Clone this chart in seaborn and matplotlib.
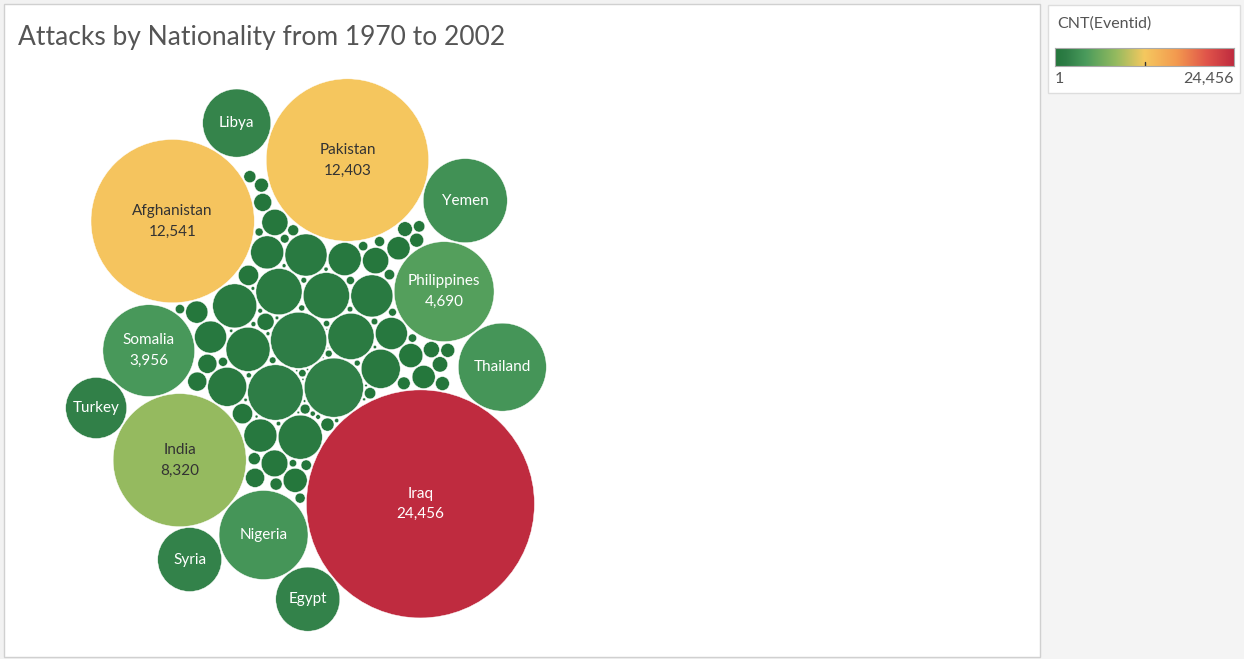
import numpy as np
import matplotlib
matplotlib.use("Agg")
import matplotlib.pyplot as plt
from matplotlib.patches import Circle, Rectangle
from matplotlib.colors import LinearSegmentedColormap, Normalize
import seaborn as sns

# nationalities that carry a label in the chart
countries = ["Iraq", "Pakistan", "Afghanistan", "India", "Philippines", "Somalia",
             "Nigeria", "Thailand", "Yemen", "Libya", "Egypt", "Syria", "Turkey"]
counts = [24456, 12403, 12541, 8320, 4690, 3956,
          3720, 3640, 3320, 2180, 1930, 1920, 1750]

# the rest of the nationalities (no room for a label)
other_counts = [1640, 1475, 1440, 1000, 1000, 1000, 910, 910, 910, 830, 830, 715, 710,
                510, 510, 510, 480, 480, 333, 320, 320, 270, 270, 250, 250, 230, 190, 190,
                170, 170, 170, 150, 135, 120, 110, 100, 90, 90, 90, 90, 80, 75, 68, 68, 68,
                60, 60, 55, 50, 50, 47, 47, 45, 40, 40, 38, 35, 32, 30, 30, 28, 25, 25, 22,
                20, 20, 18, 17, 16, 15, 14, 12, 12, 11, 10, 10, 9, 8, 8, 7, 7, 6, 6, 5, 5,
                5, 4, 4, 3, 3, 3, 2, 2, 2, 1, 1, 1]

cmin, cmax = 1, 24456

sns.set_theme(style="white")
plt.rcParams['font.family'] = ['Lato', 'DejaVu Sans']

W, H = 1244, 659
PX = 114 / np.sqrt(24456)      # pixels per unit of sqrt(count)


def pack(radii, anchor, pad, sx=1.0, sy=1.2):
    # greedy packing: each circle goes to the free tangent spot nearest the anchor
    n = len(radii)
    pos = np.zeros((n, 2))
    for k in range(1, n):
        r = radii[k]
        P = pos[:k]
        R = radii[:k]
        d = anchor - P
        dn = np.linalg.norm(d, axis=1, keepdims=True)
        dn[dn == 0] = 1
        cand = [P + d / dn * (R + r + pad)[:, None]]
        if k >= 2:
            i, j = np.triu_indices(k, 1)
            dij = np.linalg.norm(P[j] - P[i], axis=1)
            da = R[i] + r + pad
            db = R[j] + r + pad
            ok = (dij < da + db) & (dij > np.abs(da - db)) & (dij > 0)
            i, j, dij, da, db = i[ok], j[ok], dij[ok], da[ok], db[ok]
            u = (P[j] - P[i]) / dij[:, None]
            a = (dij ** 2 + da ** 2 - db ** 2) / (2 * dij)
            h = np.sqrt(np.maximum(da ** 2 - a ** 2, 0))
            base = P[i] + u * a[:, None]
            perp = np.stack([-u[:, 1], u[:, 0]], axis=1)
            cand.append(base + perp * h[:, None])
            cand.append(base - perp * h[:, None])
        C = np.vstack(cand)
        dist = np.linalg.norm(C[:, None, :] - P[None, :, :], axis=2)
        free = np.all(dist >= R[None, :] + r + pad - 1e-3, axis=1)
        C = C[free]
        score = ((C[:, 0] - anchor[0]) / sx) ** 2 + ((C[:, 1] - anchor[1]) / sy) ** 2
        pos[k] = C[np.argmin(score)]
    return pos


# placement order: biggest bubble, mid-size unlabelled core, labelled ring, small filler
others = sorted(other_counts, reverse=True)
mid = [v for v in others if v >= 400]
small = [v for v in others if v < 400]
names = [countries[0]] + [""] * len(mid) + countries[1:] + [""] * len(small)
vals = np.array([counts[0]] + mid + counts[1:] + small, dtype=float)
radii = np.sqrt(vals)

anchor = np.array([-160.0, 215.0])
pos = pack(radii, anchor, pad=2.0)

cmap = LinearSegmentedColormap.from_list("rgg", [
    (0.0, "#24763b"), (0.06, "#2e7d46"), (0.17, "#4a9b5c"), (0.34, "#94ba5f"),
    (0.5, "#f5c85f"), (0.68, "#f39a4f"), (0.85, "#e0544a"), (1.0, "#bf2b3f")])
norm = Normalize(cmin, cmax)

fig = plt.figure(figsize=(W / 100, H / 100), dpi=100, facecolor="#f2f2f2")

# main panel and side panel backgrounds
fig.add_artist(Rectangle((1041 / W, 0), 203 / W, 1, transform=fig.transFigure,
                         facecolor="#f4f4f4", edgecolor="none", zorder=0))
fig.add_artist(Rectangle((4 / W, 2 / H), 1036 / W, 653 / H, transform=fig.transFigure,
                         facecolor="white", edgecolor="#d0d0d0", lw=1, zorder=0))
fig.add_artist(Rectangle((1048 / W, 1 - 93 / H), 192 / W, 88 / H, transform=fig.transFigure,
                         facecolor="white", edgecolor="#dddddd", lw=1, zorder=0))

# axes over the main panel, 1 unit = PX pixels
ax_l, ax_r, ax_t, ax_b = 5, 1039, 5, 656
ax = fig.add_axes([ax_l / W, 1 - ax_b / H, (ax_r - ax_l) / W, (ax_b - ax_t) / H])
ax.set_axis_off()
xmin = (pos[:, 0] - radii).min()
xmax = (pos[:, 0] + radii).max()
ymin = (pos[:, 1] - radii).min()
ymax = (pos[:, 1] + radii).max()
cx_px, cy_px = 306, 355
cx, cy = (xmin + xmax) / 2, (ymin + ymax) / 2
ax.set_xlim(cx - (cx_px - ax_l) / PX, cx + (ax_r - cx_px) / PX)
ax.set_ylim(cy - (ax_b - cy_px) / PX, cy + (cy_px - ax_t) / PX)

for (x, y), r, v, nm in zip(pos, radii, vals, names):
    col = cmap(norm(v))
    ax.add_patch(Circle((x, y), r, facecolor=col, edgecolor="white", lw=0.3))
    if nm:
        frac = norm(v)
        tc = "#333333" if 0.28 < frac < 0.75 else "white"
        if v > 3800:
            ax.annotate(nm, (x, y), xytext=(0, 7.5), textcoords="offset points",
                        ha="center", va="center", fontsize=11, color=tc)
            ax.annotate(f"{int(v):,}", (x, y), xytext=(0, -7.5), textcoords="offset points",
                        ha="center", va="center", fontsize=11, color=tc)
        else:
            ax.annotate(nm, (x, y), ha="center", va="center", fontsize=11, color=tc)

fig.text(18 / W, 1 - 37 / H, "Attacks by Nationality from 1970 to 2002",
         fontsize=19, color="#555555", va="center", ha="left")

# colour legend
fig.text(1057 / W, 1 - 24 / H, "CNT(Eventid)", fontsize=11.5, color="#555555",
         va="center", ha="left")
cax = fig.add_axes([1055 / W, 1 - 66 / H, 179 / W, 18 / H])
cax.imshow(np.linspace(0, 1, 256)[None, :], aspect="auto", cmap=cmap,
           extent=[0, 1, 0, 1])
cax.set_xticks([])
cax.set_yticks([])
for s in cax.spines.values():
    s.set_color("#aaaaaa")
    s.set_linewidth(0.8)
cax.plot([0.5, 0.5], [0, 0.2], color="#333333", lw=1)
fig.text(1055 / W, 1 - 79 / H, "1", fontsize=11.5, color="#555555", va="center", ha="left")
fig.text(1234 / W, 1 - 79 / H, "24,456", fontsize=11.5, color="#555555",
         va="center", ha="right")

fig.savefig("out.png", dpi=100, facecolor=fig.get_facecolor())
